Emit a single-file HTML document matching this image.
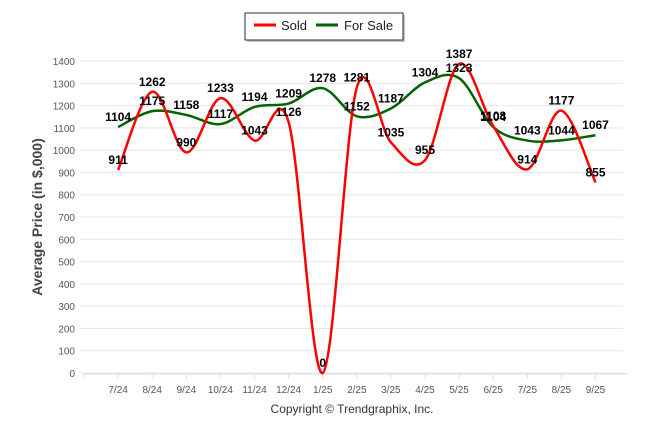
<!DOCTYPE html>
<html><head><meta charset="utf-8"><style>
body{margin:0;background:#fff;font-family:"Liberation Sans",Arial,sans-serif}
svg text{font-family:"Liberation Sans",Arial,sans-serif}
</style></head><body>
<svg id="c" width="646" height="434" xmlns="http://www.w3.org/2000/svg">
<g>
<rect x="247" y="15" width="158" height="27" fill="#888" opacity="0.5"/>
<rect x="245" y="13" width="158" height="27" fill="#fff" stroke="#1f2f4f" stroke-width="1"/>
<g><line x1="254" y1="25" x2="276" y2="25" stroke="#f00" stroke-width="3"/><text x="281" y="30" font-size="13" fill="#222">Sold</text></g>
<g><line x1="316" y1="25" x2="338" y2="25" stroke="#006400" stroke-width="3"/><text x="344" y="30" font-size="13" fill="#222">For Sale</text></g>
</g>
<text transform="translate(42,217) rotate(-90)" text-anchor="middle" font-size="14" font-weight="bold" fill="#444">Average Price (in $,000)</text>
<text x="352" y="413" text-anchor="middle" font-size="12" fill="#333">Copyright © Trendgraphix, Inc.</text>
<g id="grid"></g><g id="series"></g><g id="labels"></g>
</svg>
<script>
const categories=["7/24","8/24","9/24","10/24","11/24","12/24","1/25","2/25","3/25","4/25","5/25","6/25","7/25","8/25","9/25"];
const soldValues=[911,1262,990,1233,1043,1126,0,1281,1035,955,1387,1108,914,1177,855];
const forSaleValues=[1104,1175,1158,1117,1194,1209,1278,1152,1187,1304,1323,1104,1043,1044,1067];
const yTicks=[0,100,200,300,400,500,600,700,800,900,1000,1100,1200,1300,1400];
const NS="http://www.w3.org/2000/svg";
const x0=84,step=34.1,y0=373,yMax=1400,yTop=61;
function xs(i){return x0+step*(i+1);}
function ys(v){return y0-(y0-yTop)*v/yMax;}
function mk(t,a,p){const e=document.createElementNS(NS,t);for(const k in a)e.setAttribute(k,a[k]);p.appendChild(e);return e;}
const g=document.getElementById('grid');
yTicks.forEach(v=>{
 const l=mk('line',{x1:80,x2:623,y1:ys(v),y2:ys(v),stroke:'#e6e6e6','stroke-width':1},g);
 
 
 const t=mk('text',{x:75,y:ys(v)+4,'text-anchor':'end','font-size':10,fill:'#555'},g);t.textContent=v;
 
 
});
const ax=mk('line',{x1:84,x2:629,y1:y0+1,y2:y0+1,stroke:'#ddd'},g);


for(let i=0;i<=categories.length;i++){
 mk('line',{x1:x0+step*i,x2:x0+step*i,y1:y0+1,y2:y0+6,stroke:'#ddd'},g);
}
categories.forEach((c,i)=>{
 const t=mk('text',{x:xs(i),y:393,'text-anchor':'middle','font-size':10,fill:'#555'},g);t.textContent=c;
 
 
});
function path(vals){
 const p=vals.map((v,i)=>[xs(i),ys(v)]);
 let d='M'+p[0][0]+','+p[0][1];
 for(let i=0;i<p.length-1;i++){
  const a=p[i-1]||p[i],b=p[i],c=p[i+1],e=p[i+2]||c;
  const c1=[b[0]+(c[0]-a[0])/6,b[1]+(c[1]-a[1])/6],c2=[c[0]-(e[0]-b[0])/6,c[1]-(e[1]-b[1])/6];
  d+=' C'+c1+' '+c2+' '+c;
 }
 return d;
}
const s=document.getElementById('series');
const fp=mk('path',{d:path(forSaleValues),fill:'none',stroke:'#006400','stroke-width':2.5},s);


const sp=mk('path',{d:path(soldValues),fill:'none',stroke:'#f00','stroke-width':2.5},s);


const L=document.getElementById('labels');
[forSaleValues,soldValues].forEach(vals=>vals.forEach((v,i)=>{
 const t=mk('text',{x:xs(i),y:ys(v)-6,'text-anchor':'middle','font-size':12,'font-weight':'bold',fill:'#000'},L);t.textContent=v;
 
 
}));
</script>
</body></html>
